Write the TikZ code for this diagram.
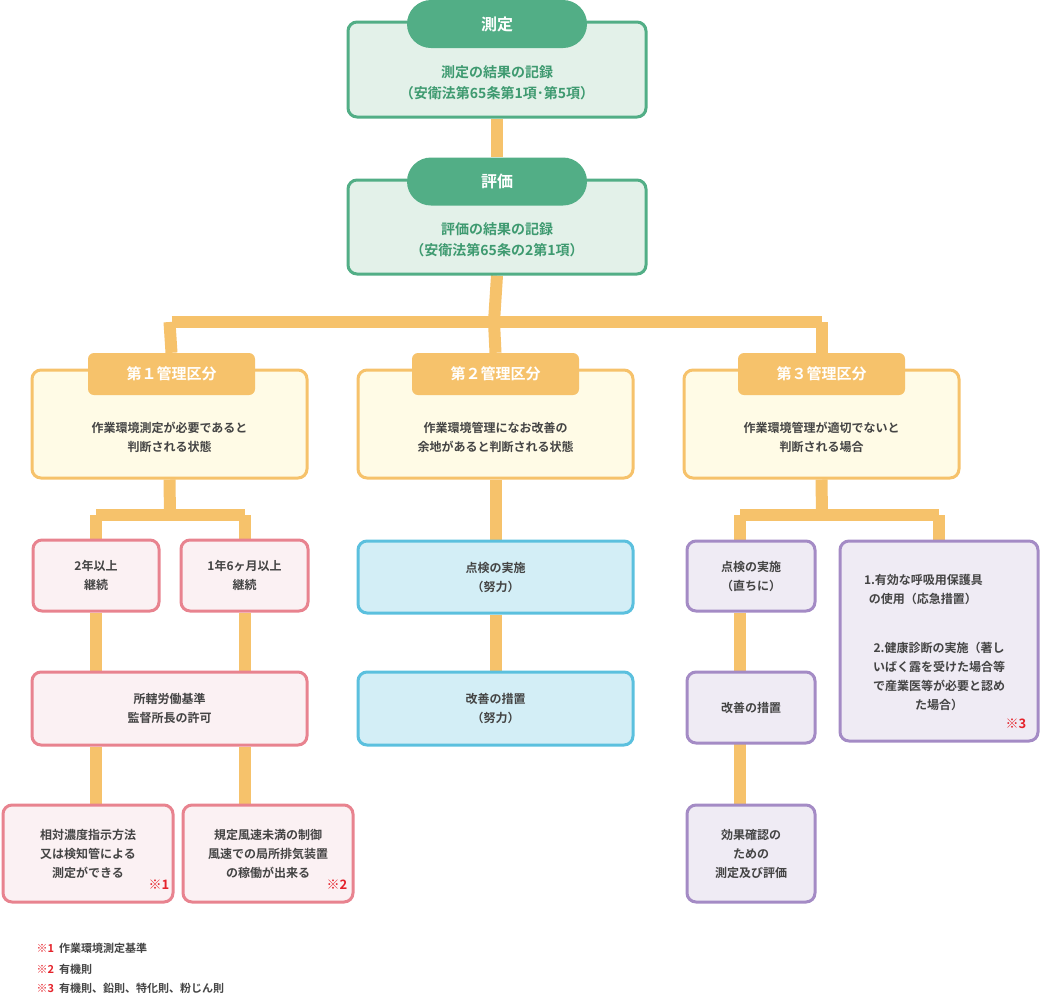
\documentclass[tikz,border=0pt]{standalone}
\usepackage{fontspec}
\setmainfont{Noto Sans CJK JP}[BoldFont={* Bold}]
\usetikzlibrary{backgrounds}
\definecolor{grnline}{HTML}{52AE86}
\definecolor{grnfill}{HTML}{E3F1E9}
\definecolor{grntext}{HTML}{3E9A70}
\definecolor{orgline}{HTML}{F6C26B}
\definecolor{ylwfill}{HTML}{FFFBE6}
\definecolor{pnkline}{HTML}{E8838F}
\definecolor{pnkfill}{HTML}{FBF1F3}
\definecolor{bluline}{HTML}{5BC0DE}
\definecolor{blufill}{HTML}{D3EEF6}
\definecolor{purline}{HTML}{A48BC5}
\definecolor{purfill}{HTML}{EFEBF4}
\definecolor{txtgray}{HTML}{444444}
\definecolor{notered}{HTML}{E5232B}

\tikzset{
  box/.style={line width=3pt, rounded corners=9pt, inner sep=0pt, align=center,
    font=\bfseries\fontsize{12}{19}\selectfont, text=txtgray},
  grnbox/.style={box, draw=grnline, fill=grnfill, text=grntext, font=\bfseries\fontsize{14}{21}\selectfont},
  grntab/.style={fill=grnline, rounded corners=24pt, text=white, font=\bfseries\fontsize{16}{18}\selectfont,
    minimum width=180pt, minimum height=48pt},
  ylwbox/.style={box, draw=orgline, fill=ylwfill, minimum width=275pt, minimum height=108pt},
  orgtab/.style={fill=orgline, rounded corners=6pt, text=white, font=\bfseries\fontsize{15}{18}\selectfont,
    minimum width=167pt, minimum height=42pt},
  pnkbox/.style={box, draw=pnkline, fill=pnkfill},
  blubox/.style={box, draw=bluline, fill=blufill, minimum width=275pt},
  purbox/.style={box, draw=purline, fill=purfill, minimum width=128pt},
  link/.style={orgline, line width=12pt},
  note/.style={text=notered, font=\bfseries\fontsize{13}{14}\selectfont},
}

\begin{document}
\begin{tikzpicture}[x=1pt,y=-1pt]
    \useasboundingbox (0,0) rectangle (1040,994);

    % top: measurement and evaluation
    \node[grnbox, minimum width=298pt, minimum height=95pt] (meas) at (497,69.5) {};
    \node[grntab] (meastab) at (497,24) {測定};
    \node[text=grntext, font=\bfseries\fontsize{14}{21}\selectfont, align=center] (meastxt) at (497,83)
        {測定の結果の記録\\（安衛法第65条第1項･第5項）};
    \node[grnbox, minimum width=298pt, minimum height=94pt] (eval) at (497,227) {};
    \node[grntab] (evaltab) at (497,181.5) {評価};
    \node[text=grntext, font=\bfseries\fontsize{14}{21}\selectfont, align=center] (evaltxt) at (497,240)
        {評価の結果の記録\\（安衛法第65条の2第1項）};

    % three classes
    \node[ylwbox] (cls1) at (169.5,424) {};
    \node[orgtab] (cls1tab) at (171.5,374) {第１管理区分};
    \node[box] (cls1txt) at (169.5,437) {作業環境測定が必要であると\\判断される状態};
    \node[ylwbox] (cls2) at (495.5,424) {};
    \node[orgtab] (cls2tab) at (495.5,374) {第２管理区分};
    \node[box] (cls2txt) at (495.5,437) {作業環境管理になお改善の\\余地があると判断される状態};
    \node[ylwbox] (cls3) at (821.5,424) {};
    \node[orgtab] (cls3tab) at (821.5,374) {第３管理区分};
    \node[box] (cls3txt) at (821.5,437) {作業環境管理が適切でないと\\判断される場合};

    % class 1 branch
    \node[pnkbox, minimum width=126pt, minimum height=71pt] (yr2) at (96,575.5) {2年以上\\継続};
    \node[pnkbox, minimum width=127pt, minimum height=71pt] (yr1) at (244.5,575.5) {1年6ヶ月以上\\継続};
    \node[pnkbox, minimum width=275pt, minimum height=73pt] (permit) at (169.5,708.5) {所轄労働基準\\監督所長の許可};
    \node[pnkbox, minimum width=170pt, minimum height=97pt] (conc) at (88,853.5) {相対濃度指示方法\\又は検知管による\\測定ができる};
    \node[note] (conc1) at (159,885) {※1};
    \node[pnkbox, minimum width=170pt, minimum height=97pt] (wind) at (268,853.5) {規定風速未満の制御\\風速での局所排気装置\\の稼働が出来る};
    \node[note] (wind2) at (337,885) {※2};

    % class 2 branch
    \node[blubox, minimum height=72pt] (chk2) at (495.5,577) {点検の実施\\（努力）};
    \node[blubox, minimum height=73pt] (fix2) at (495.5,708.5) {改善の措置\\（努力）};

    % class 3 branch
    \node[purbox, minimum height=70pt] (chk3) at (751,576) {点検の実施\\（直ちに）};
    \node[purbox, minimum height=71pt] (fix3) at (751,707.5) {改善の措置};
    \node[purbox, minimum height=97pt] (eff3) at (751,853.5) {効果確認の\\ための\\測定及び評価};
    \node[box, draw=purline, fill=purfill, minimum width=198pt, minimum height=200pt] (urg3) at (939,641) {};
    \node[box, text width=150pt, align=left] (urg3a) at (939,589) {1.有効な呼吸用保護具\\\hspace*{0.4em}の使用（応急措置）};
    \node[box] (urg3b) at (939,676) {2.健康診断の実施（著し\\いばく露を受けた場合等\\で産業医等が必要と認め\\た場合）};
    \node[note] (urg3n) at (1016,724) {※3};

    % footnotes
    \node[anchor=west, font=\bfseries\fontsize{11}{12}\selectfont, text=txtgray] (fn1) at (33,948) {\textcolor{notered}{※1}\ \ 作業環境測定基準};
    \node[anchor=west, font=\bfseries\fontsize{11}{12}\selectfont, text=txtgray] (fn2) at (33,969) {\textcolor{notered}{※2}\ \ 有機則};
    \node[anchor=west, font=\bfseries\fontsize{11}{12}\selectfont, text=txtgray] (fn3) at (33,988) {\textcolor{notered}{※3}\ \ 有機則、鉛則、特化則、粉じん則};

    % connectors
    \coordinate (split) at (494,322);
    \coordinate (split1) at (170,515);
    \coordinate (split3) at (822,515);
    \begin{scope}[on background layer]
        \draw[link] (meas.south) -- (evaltab.north);
        \draw[link] (eval.south) -- (split);
        \draw[link] (cls1tab.north |- split) -- (cls3tab.north |- split);
        \draw[link] (cls1 |- split) -- (cls1tab.north);
        \draw[link] (cls3 |- split) -- (cls3tab.north);
        \draw[link] (split) -- (cls2tab.north);
        \draw[link] (cls1.south) -- (split1);
        \draw[link] (yr2 |- split1) -- (yr1 |- split1);
        \draw[link] (yr2 |- split1) -- (yr2.north);
        \draw[link] (yr1 |- split1) -- (yr1.north);
        \draw[link] (yr2.south) -- (yr2 |- permit.north);
        \draw[link] (yr1.south) -- (yr1 |- permit.north);
        \draw[link] (yr2 |- permit.south) -- (yr2 |- conc.north);
        \draw[link] (yr1 |- permit.south) -- (yr1 |- wind.north);
        \draw[link] (cls2.south) -- (chk2.north);
        \draw[link] (chk2.south) -- (fix2.north);
        \draw[link] (cls3.south) -- (split3);
        \draw[link] ([xshift=-11pt]chk3 |- split3) -- (urg3 |- split3);
        \draw[link] ([xshift=-11pt]chk3 |- split3) -- ([xshift=-11pt]chk3.north);
        \draw[link] (urg3 |- split3) -- (urg3.north);
        \draw[link] ([xshift=-11pt]chk3.south) -- ([xshift=-11pt]eff3.north);
    \end{scope}
\end{tikzpicture}
\end{document}
